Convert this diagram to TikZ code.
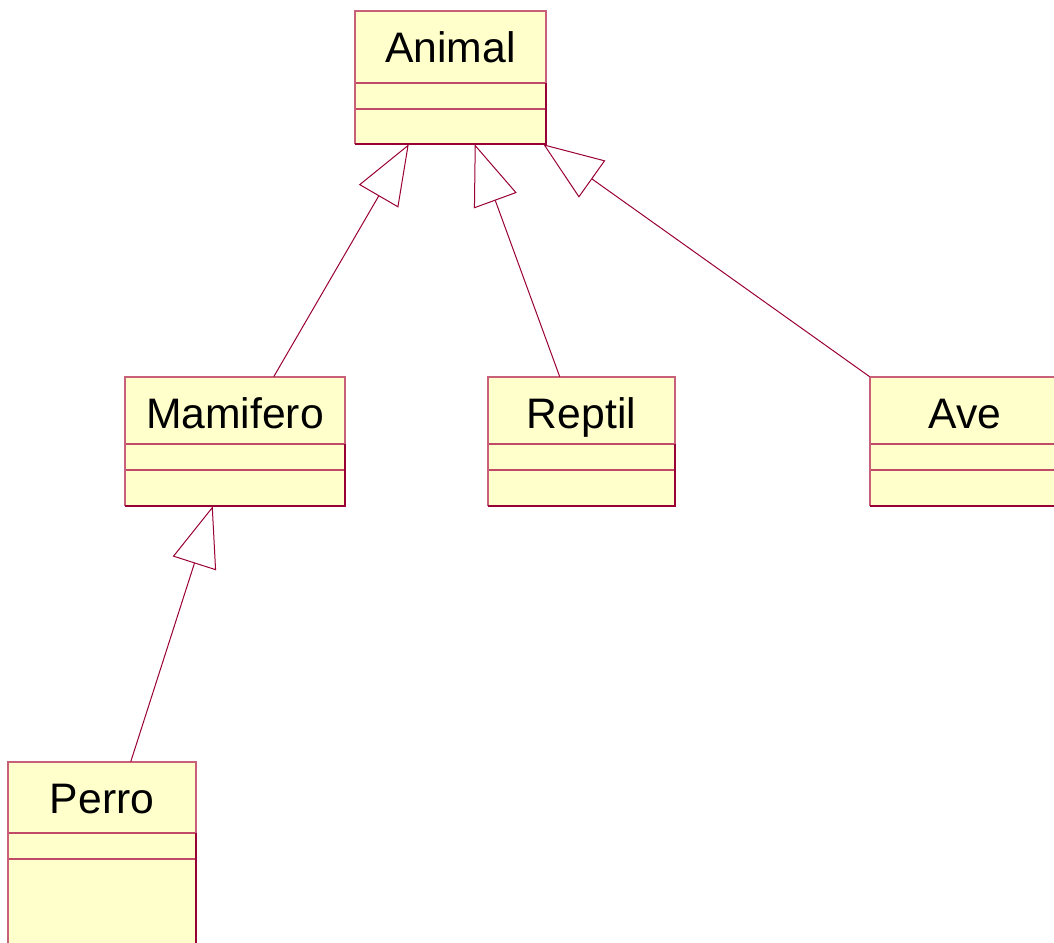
\documentclass[tikz,border=0pt]{standalone}
\usepackage{fontspec}
\setmainfont{Liberation Sans}
\usetikzlibrary{arrows.meta,fit,calc}
\definecolor{umlfill}{HTML}{FFFFCC}
\definecolor{umldark}{HTML}{990033}
\definecolor{umllight}{HTML}{C8607A}
\definecolor{umldiv}{HTML}{C04A68}
\tikzset{
  cls/.style={fill=umlfill, draw=none, inner sep=0pt},
  light/.style={draw=umllight, line width=0.8pt},
  dark/.style={draw=umldark, line width=1.5pt},
  divl/.style={draw=umldiv, line width=0.8pt},
  gen/.style={draw=umldark, line width=0.75pt, -{Triangle[open, length=45pt, width=34pt, fill=white]}},
  lbl/.style={font=\fontsize{32}{36}\selectfont, text=black, inner sep=0pt, anchor=base}
}
% name, x1, y1, x2, y2, divider1, divider2, text
\newcommand\umlclass[8]{%
  \node[cls, fit={(#2,#3)(#4,#5)}] (#1) {};
  \draw[divl] (#2,#6) -- (#4,#6);
  \draw[divl] (#2,#7) -- (#4,#7);
  \draw[light] (#2,#5) -- (#2,#3) -- (#4,#3) -- (#4,#6);
  \draw[dark] (#4,#6) -- (#4,#5) -- (#2,#5);
  \node[lbl] (#1-name) at ($(#2,#3)!0.5!(#4,#3)+(0,51)$) {#8};
}
\begin{document}
\begin{tikzpicture}[x=0.75pt, y=-0.75pt]
\useasboundingbox (0,0) rectangle (1054,943);
\clip (0,0) rectangle (1054,943);
\umlclass{animal}{355}{11}{546}{144}{83}{109}{Animal}
\umlclass{mam}{125}{377}{345}{506}{444}{470}{Mamifero}
\umlclass{rep}{488}{377}{675}{506}{444}{470}{Reptil}
\umlclass{ave}{870}{377}{1060}{506}{444}{470}{Ave}
\umlclass{perro}{8}{762}{196}{960}{833}{859}{Perro}
\draw[gen] ($(mam.north west)+(149,0)$) -- ($(animal.south west)+(54,0)$);
\draw[gen] ($(rep.north west)+(72,0)$) -- ($(animal.south west)+(120,0)$);
\draw[gen] (ave.north west) -- ($(animal.south east)+(-3,0)$);
\draw[gen] ($(perro.north west)+(123,0)$) -- ($(mam.south west)+(88,0)$);
\end{tikzpicture}
\end{document}
